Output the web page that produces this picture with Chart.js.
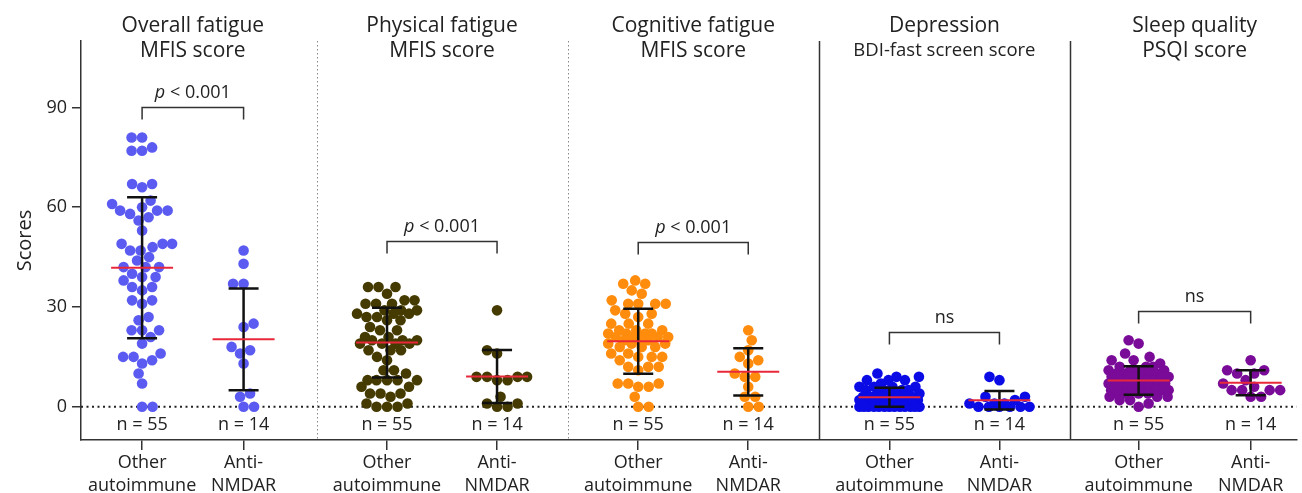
<!DOCTYPE html>
<html><head><meta charset="utf-8">
<script src="https://cdn.jsdelivr.net/npm/chart.js@4.4.1/dist/chart.umd.min.js"></script>
<style>html,body{margin:0;padding:0;background:#fff;overflow:hidden}canvas{display:block}</style>
</head><body>
<canvas id="c" width="1302" height="493"></canvas>
<script>
// ---------------- DATA ----------------
const categories = [["Other", "autoimmune"], ["Anti-", "NMDAR"]];
const panelTitles = [
  ["Overall fatigue", "MFIS score"],
  ["Physical fatigue", "MFIS score"],
  ["Cognitive fatigue", "MFIS score"],
  ["Depression", "BDI-fast screen score"],
  ["Sleep quality", "PSQI score"]
];
const yTicks = [0, 30, 60, 90];
const yAxisTitle = "Scores";

const overallOther = [81,81,78,77,77,67,67,66,62,61,60,59,59,59,58,57,56,53,49,49,49,48,47,47,45,44,42,42,42,40,39,39,38,36,36,35,32,32,31,27,26,23,23,23,21,19,16,15,15,14,13,10,7,0,0];
const overallAnti = [47,43,37,37,25,24,18,17,16,13,4,3,0,0];
const physicalOther = [36,36,36,34,32,32,31,31,31,29,29,29,28,28,28,27,27,26,26,24,23,23,21,21,20,20,20,19,19,19,19,17,17,17,15,14,11,11,10,8,8,8,8,8,6,6,4,4,4,3,1,1,0,0,0];
const physicalAnti = [29,17,16,9,9,9,9,8,8,3,1,1,0,0];
const cognitiveOther = [38,37,37,35,34,32,31,31,31,31,29,28,28,27,25,25,25,23,23,23,22,22,22,22,21,21,21,21,21,20,20,19,19,19,18,18,18,16,16,15,15,15,14,12,12,12,11,7,7,7,6,6,3,0,0];
const cognitiveAnti = [23,20,17,15,14,13,10,9,9,6,3,3,0,0];
const depressionOther = [10,9,9,8,8,8,7,6,6,6,6,5,5,5,5,4,4,4,4,3,3,3,3,3,3,2,2,2,2,2,2,2,2,1,1,1,1,1,1,1,1,1,0,0,0,0,0,0,0,0,0,0,0,0,0];
const depressionAnti = [9,8,3,3,2,1,1,1,0,0,0,0,0,0];
const sleepOther = [20,19,16,15,14,14,13,12,12,12,11,11,11,11,10,10,10,10,10,9,9,9,9,9,8,8,8,8,8,7,7,7,7,7,6,6,6,6,6,5,5,5,5,5,4,4,4,4,3,3,3,2,2,1,0];
const sleepAnti = [14,11,11,10,10,8,7,6,5,5,5,5,3,3];

const meanOther = [41.8, 19.3, 19.7, 2.85, 7.9];
const sdOther   = [21.2, 10.5, 9.8, 2.85, 4.3];
const meanAnti  = [20.3, 9.1, 10.5, 1.95, 7.2];
const sdAnti    = [15.3, 8.0, 7.1, 2.75, 3.75];
const nOther = [55, 55, 55, 55, 55];
const nAnti  = [14, 14, 14, 14, 14];
const pLabels = ["p < 0.001", "p < 0.001", "p < 0.001", "ns", "ns"];
const bracketLevels = [90, 50, 49.5, 22.4, 28.8];
const panelColors = ["#5b5bf2", "#453a00", "#ff8c0c", "#0b0be6", "#7a0a98"];

// ---------------- LAYOUT CONSTANTS ----------------
// fractional position of the two groups inside each panel
const groupFracs = [[0.305, 0.709], [0.28, 0.718], [0.28, 0.718], [0.28, 0.718], [0.272, 0.718]];
const FONT = "'Open Sans', 'Noto Sans', sans-serif";
const TXT = "#222";

const seriesOther = [overallOther, physicalOther, cognitiveOther, depressionOther, sleepOther];
const seriesAnti = [overallAnti, physicalAnti, cognitiveAnti, depressionAnti, sleepAnti];

const groups = [];
for (let p = 0; p < 5; p++) {
  groups.push({panel: p, side: 0, center: p + groupFracs[p][0], values: seriesOther[p], mean: meanOther[p], sd: sdOther[p], n: nOther[p]});
  groups.push({panel: p, side: 1, center: p + groupFracs[p][1], values: seriesAnti[p], mean: meanAnti[p], sd: sdAnti[p], n: nAnti[p]});
}

// beeswarm: nearest free horizontal slot; in crowded rows, squeeze within maxHalf
function swarm(py, diam, maxHalf) {
  const n = py.length;
  const order = py.map((y, i) => i).sort((a, b) => py[b] - py[a]);
  const placed = [];
  const off = new Array(n).fill(0);
  const cands = [0];
  for (let d = 0.5; d <= maxHalf + 1e-9; d += 0.5) { cands.push(d, -d); }
  let flip = 1;
  for (const i of order) {
    const y = py[i];
    let chosen = null, bestC = 0, bestD = -1;
    for (const c0 of cands) {
      const c = c0 * flip;
      let md = Infinity;
      for (const q of placed) {
        const dd = Math.hypot(q.x - c, q.y - y);
        if (dd < md) md = dd;
      }
      if (md >= diam) { chosen = c; break; }
      if (md > bestD + 0.3) { bestD = md; bestC = c; }
    }
    if (chosen === null) chosen = bestC;
    if (chosen !== 0) flip = -flip;
    off[i] = chosen;
    placed.push({x: chosen, y});
  }
  return off;
}

const overlay = {
  id: 'overlay',
  beforeDatasetsDraw(chart) {
    const {ctx, chartArea: a, scales: {x, y}} = chart;
    ctx.save();
    const y0 = y.getPixelForValue(0);
    ctx.strokeStyle = '#222'; ctx.lineWidth = 1.8; ctx.setLineDash([2, 3.5]);
    ctx.beginPath(); ctx.moveTo(a.left, y0); ctx.lineTo(a.right, y0); ctx.stroke();
    for (let k = 1; k <= 4; k++) {
      const px = Math.round(x.getPixelForValue(k)) + 0.5;
      if (k <= 2) { ctx.strokeStyle = '#8a8a8a'; ctx.lineWidth = 1; ctx.setLineDash([1.5, 2.5]); }
      else { ctx.strokeStyle = '#333'; ctx.lineWidth = 1.5; ctx.setLineDash([]); }
      ctx.beginPath(); ctx.moveTo(px, a.top); ctx.lineTo(px, a.bottom); ctx.stroke();
    }
    ctx.restore();
  },
  afterDatasetsDraw(chart) {
    const {ctx, scales: {x, y}} = chart;
    ctx.save();
    ctx.setLineDash([]);
    groups.forEach(g => {
      const cx = x.getPixelForValue(g.center);
      const yt = y.getPixelForValue(g.mean + g.sd), yb = y.getPixelForValue(g.mean - g.sd);
      ctx.strokeStyle = '#111'; ctx.lineWidth = 2.5;
      ctx.beginPath();
      ctx.moveTo(cx, yt); ctx.lineTo(cx, yb);
      ctx.moveTo(cx - 15, yt); ctx.lineTo(cx + 15, yt);
      ctx.moveTo(cx - 15, yb); ctx.lineTo(cx + 15, yb);
      ctx.stroke();
      const ym = y.getPixelForValue(g.mean);
      ctx.strokeStyle = '#e8283a'; ctx.lineWidth = 2;
      ctx.beginPath(); ctx.moveTo(cx - 31, ym); ctx.lineTo(cx + 31, ym); ctx.stroke();
      ctx.fillStyle = TXT; ctx.font = `18px ${FONT}`; ctx.textAlign = 'center'; ctx.textBaseline = 'alphabetic';
      ctx.fillText(`n = ${g.n}`, cx, 430);
    });
    for (let p = 0; p < 5; p++) {
      const x1 = x.getPixelForValue(p + groupFracs[p][0]), x2 = x.getPixelForValue(p + groupFracs[p][1]);
      const yb = Math.round(y.getPixelForValue(bracketLevels[p])) + 0.5;
      ctx.strokeStyle = '#333'; ctx.lineWidth = 1.5;
      ctx.beginPath(); ctx.moveTo(x1, yb + 12); ctx.lineTo(x1, yb); ctx.lineTo(x2, yb); ctx.lineTo(x2, yb + 12); ctx.stroke();
      const label = pLabels[p];
      const cxm = (x1 + x2) / 2, base = yb - 9.5;
      ctx.fillStyle = TXT; ctx.textBaseline = 'alphabetic';
      if (label.startsWith('p ')) {
        const rest = label.slice(1);
        ctx.font = `italic 18px ${FONT}`; const w1 = ctx.measureText('p').width;
        ctx.font = `18px ${FONT}`; const w2 = ctx.measureText(rest).width;
        const sx = cxm - (w1 + w2) / 2;
        ctx.textAlign = 'left';
        ctx.font = `italic 18px ${FONT}`; ctx.fillText('p', sx, base);
        ctx.font = `18px ${FONT}`; ctx.fillText(rest, sx + w1, base);
      } else {
        ctx.textAlign = 'center'; ctx.font = `18px ${FONT}`; ctx.fillText(label, cxm, base);
      }
      ctx.textAlign = 'center';
      ctx.font = `21px ${FONT}`; ctx.fillText(panelTitles[p][0], cxm, 32);
      ctx.font = (p === 3 ? `18.5px ${FONT}` : `21px ${FONT}`);
      ctx.fillText(panelTitles[p][1], cxm, p === 3 ? 56 : 57);
    }
    ctx.restore();
  }
};

const xTickValues = groups.map(g => g.center);

const chart = new Chart(document.getElementById('c'), {
  type: 'scatter',
  data: {
    datasets: groups.map(g => ({
      data: g.values.map(v => ({x: g.center, y: v})),
      backgroundColor: panelColors[g.panel],
      borderWidth: 0,
      pointRadius: 5.3,
      pointHoverRadius: 5.3,
      pointBorderWidth: 0
    }))
  },
  options: {
    responsive: false,
    animation: false,
    devicePixelRatio: 1,
    layout: {padding: {top: 41, left: 0, right: 0, bottom: 0}},
    plugins: {legend: {display: false}, tooltip: {enabled: false}, title: {display: false}},
    scales: {
      x: {
        type: 'linear',
        min: 0.0618, max: 4.9013,
        afterBuildTicks: s => { s.ticks = xTickValues.map(v => ({value: v})); },
        afterFit: s => { s.height = 53; },
        ticks: {
          autoSkip: false, maxRotation: 0, minRotation: 0, padding: 1,
          color: TXT, font: {family: FONT, size: 18, lineHeight: 1.3},
          callback: (v, i) => categories[i % 2]
        },
        grid: {display: true, drawOnChartArea: false, drawTicks: true, tickLength: 10, color: '#333', lineWidth: 1.5},
        border: {display: true, color: '#333', width: 1.5}
      },
      y: {
        type: 'linear',
        min: -10, max: 110,
        afterBuildTicks: s => { s.ticks = yTicks.map(v => ({value: v})); },
        afterFit: s => { s.width = 81; },
        ticks: {padding: 5, color: TXT, font: {family: FONT, size: 18}},
        grid: {display: true, drawOnChartArea: false, drawTicks: true, tickLength: 9, color: '#333', lineWidth: 1.5},
        border: {display: true, color: '#333', width: 1.5},
        title: {display: true, text: yAxisTitle, color: TXT, font: {family: FONT, size: 20}, padding: {top: 13, bottom: 0}}
      }
    }
  },
  plugins: [overlay]
});

(function applySwarm() {
  const xs = chart.scales.x, ys = chart.scales.y;
  chart.data.datasets.forEach((ds, di) => {
    const g = groups[di];
    const cx = xs.getPixelForValue(g.center);
    const py = g.values.map(v => ys.getPixelForValue(v));
    const off = swarm(py, 10.5, 30);
    ds.data = g.values.map((v, i) => ({x: xs.getValueForPixel(cx + off[i]), y: v}));
  });
  chart.update('none');
})();
</script>
</body></html>
